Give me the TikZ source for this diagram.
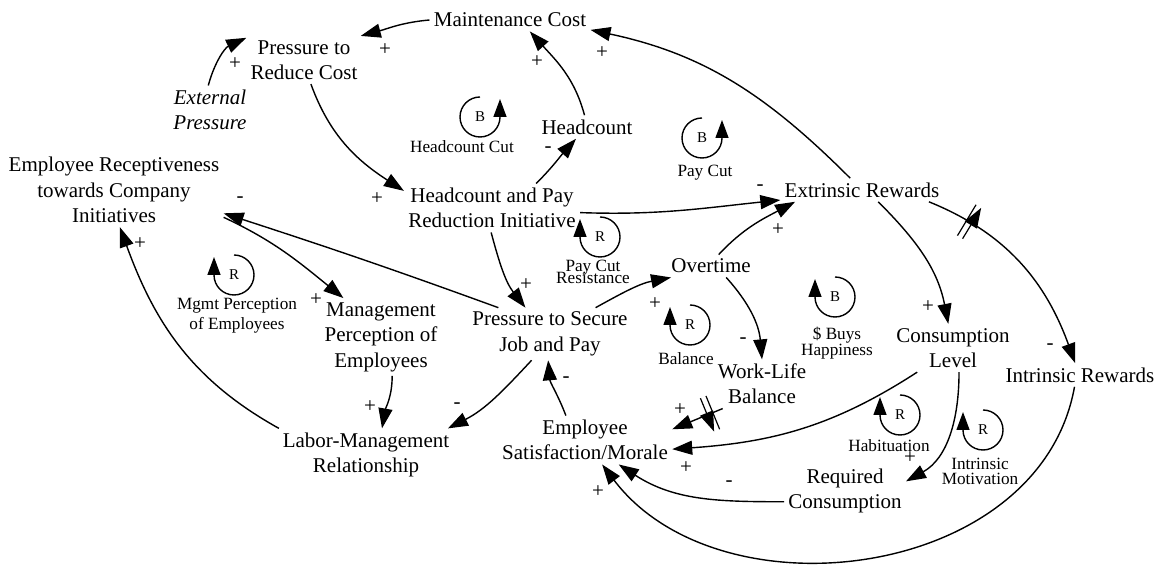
\documentclass[tikz,border=0pt]{standalone}
\usepackage{fontspec}
\setmainfont{Liberation Serif}
\usetikzlibrary{arrows.meta,decorations.markings}
\newcommand\tightlines{\lineskiplimit=-20pt\relax}

\begin{document}
\begin{tikzpicture}[x=0.5pt,y=-0.5pt,
    var/.style={align=center,inner sep=2pt,font=\fontsize{10.5}{12.7}\selectfont},
    sign/.style={inner sep=0pt,font=\fontsize{10.5}{12.7}\selectfont},
    link/.style={line width=0.7pt,-{Triangle[length=10pt,width=7pt]}},
    loopname/.style={align=center,inner sep=0pt,font=\fontsize{8.6}{#1}\selectfont\tightlines},
    loopname/.default=10,
    looplet/.style={inner sep=0pt,font=\fontsize{7.5}{9}\selectfont},
    loopcw/.style={line width=0.7pt,-{Triangle[length=9pt,width=6.5pt]}},
    delaymark/.style={postaction={decorate},decoration={markings,
        mark=at position #1 with {\draw[line width=0.6pt] (-1.5pt,-9pt) -- (-1.5pt,9pt) (1.5pt,-9pt) -- (1.5pt,9pt);}}}
  ]
  \useasboundingbox (0,0) rectangle (1161,565);

  % variables
  \node[var] (mc) at (510,20) {Maintenance Cost};
  \node[var] (prc) at (304,60) {Pressure to\\Reduce Cost};
  \node[var,font=\fontsize{10.5}{12.7}\selectfont\itshape] (ext) at (210,110) {External\\Pressure};
  \node[var] (erc) at (114,190) {Employee Receptiveness\\towards Company\\Initiatives};
  \node[var] (hc) at (587,127) {Headcount};
  \node[var] (hpr) at (492,208) {Headcount and Pay\\Reduction Initiative};
  \node[var] (er) at (862,190) {Extrinsic Rewards};
  \node[var] (ot) at (711,266) {Overtime};
  \node[var] (psjp) at (550,334) {Pressure to Secure\\Job and Pay};
  \node[var] (mpe) at (381,337) {Management\\Perception of\\Employees};
  \node[var] (lmr) at (366,455) {Labor-Management\\Relationship};
  \node[var] (esm) at (585,440) {Employee\\Satisfaction/Morale};
  \node[var] (wlb) at (762,384) {Work-Life\\Balance};
  \node[var] (cl) at (953,348) {Consumption\\Level};
  \node[var] (ir) at (1080,375) {Intrinsic Rewards};
  \node[var] (rc) at (845,491) {Required\\Consumption};

  % links
  \draw[link] (ext.94) to[out=75,in=205] (prc.159);
  \draw[link] (mc.180) to[out=185,in=15] (prc.23);
  \draw[link] (prc.286) to[out=290,in=147] (hpr.169);
  \draw[link] (hpr.29) to[out=45,in=228] (hc.227);
  \draw[link] (hc.102) to[out=105,in=312] (mc.330);
  \draw[link] (er.135) to[out=135,in=348] (mc.353);
  \draw[link] (hpr.357) to[out=-2,in=186] (er.187);
  \draw[link] (ot.56) to[out=47,in=208] (er.190);
  \draw[link] (psjp.30) to[out=29,in=191] (ot.196);
  \draw[link] (ot.323) to[out=312,in=95] (wlb.90);
  \draw[link] (hpr.268) to[out=285,in=128] (psjp.133);
  \draw[link] (psjp.153) to[out=160,in=342] (erc.348);
  \draw[link] (erc.346) to[out=335,in=141] (mpe.134);
  \draw[link] (mpe.286) to[out=270,in=80] (lmr.59);
  \draw[link] (lmr.163) to[out=151,in=290] (erc.279);
  \draw[link] (psjp.235) to[out=227,in=27] (lmr.18);
  \draw[link] (esm.128) to[out=111,in=275] (psjp.266);
  \draw[link,delaymark=0.25] (wlb.212) -- (esm.7);
  \draw[link] (cl.214) to[out=213,in=4] (esm.354);
  \draw[link] (rc.190) to[out=180,in=327] (esm.324);
  \draw[link] (cl.284) to[out=270,in=29] (rc.9);
  \draw[link] (er.324) to[out=315,in=101] (cl.101);
  \draw[link,delaymark=0.2] (er.350) to[out=338,in=110] (ir.112);
  \draw[link] (ir.245) .. controls (1040,580) and (720,620) .. (esm.305);

  % polarities
  \node[sign] (s1) at (235,64) {+};
  \node[sign] (s2) at (385,50) {+};
  \node[sign] (s3) at (377,199) {+};
  \node[sign] (s4) at (548,150) {-};
  \node[sign] (s5) at (537,62) {+};
  \node[sign] (s6) at (602,53) {+};
  \node[sign] (s7) at (760,188) {-};
  \node[sign] (s8) at (778,230) {+};
  \node[sign] (s9) at (655,304) {+};
  \node[sign] (s10) at (743,341) {-};
  \node[sign] (s11) at (526,285) {+};
  \node[sign] (s12) at (240,200) {-};
  \node[sign] (s13) at (316,300) {+};
  \node[sign] (s14) at (370,407) {+};
  \node[sign] (s15) at (140,244) {+};
  \node[sign] (s16) at (457,406) {-};
  \node[sign] (s17) at (566,380) {-};
  \node[sign] (s18) at (680,410) {+};
  \node[sign] (s19) at (686,468) {+};
  \node[sign] (s20) at (729,484) {-};
  \node[sign] (s21) at (910,458) {+};
  \node[sign] (s22) at (928,307) {+};
  \node[sign] (s23) at (1050,347) {-};
  \node[sign] (s24) at (598,492) {+};

  % loops
  \node[looplet] (lp1) at (480,117) {B};
  \draw[loopcw] (lp1) ++(90:10pt) arc[start angle=90,end angle=360,radius=10pt] -- ++(90:9pt);
  \node[loopname] (ln1) at (462,147) {Headcount Cut};

  \node[looplet] (lp2) at (702,138) {B};
  \draw[loopcw] (lp2) ++(90:10pt) arc[start angle=90,end angle=360,radius=10pt] -- ++(90:9pt);
  \node[loopname] (ln2) at (705,173) {Pay Cut};

  \node[looplet] (lp3) at (234,275) {R};
  \draw[loopcw] (lp3) ++(90:10pt) arc[start angle=90,end angle=-180,radius=10pt] -- ++(90:9pt);
  \node[loopname] (ln3) at (237,316) {Mgmt Perception\\of Employees};

  \node[looplet] (lp4) at (600,237) {R};
  \draw[loopcw] (lp4) ++(90:10pt) arc[start angle=90,end angle=-180,radius=10pt] -- ++(90:9pt);
  \node[loopname=5.8] (ln4) at (593,272) {Pay Cut\\Resistance};

  \node[looplet] (lp5) at (690,325) {R};
  \draw[loopcw] (lp5) ++(90:10pt) arc[start angle=90,end angle=-180,radius=10pt] -- ++(90:9pt);
  \node[loopname] (ln5) at (686,359) {Balance};

  \node[looplet] (lp6) at (835,297) {B};
  \draw[loopcw] (lp6) ++(90:10pt) arc[start angle=90,end angle=-180,radius=10pt] -- ++(90:9pt);
  \node[loopname=8] (ln6) at (837,343) {\$ Buys\\Happiness};

  \node[looplet] (lp7) at (900,415) {R};
  \draw[loopcw] (lp7) ++(90:10pt) arc[start angle=90,end angle=-180,radius=10pt] -- ++(90:9pt);
  \node[loopname] (ln7) at (889,446) {Habituation};

  \node[looplet] (lp8) at (983,430) {R};
  \draw[loopcw] (lp8) ++(90:10pt) arc[start angle=90,end angle=-180,radius=10pt] -- ++(90:9pt);
  \node[loopname=7.5] (ln8) at (980,471) {Intrinsic\\Motivation};
\end{tikzpicture}
\end{document}
